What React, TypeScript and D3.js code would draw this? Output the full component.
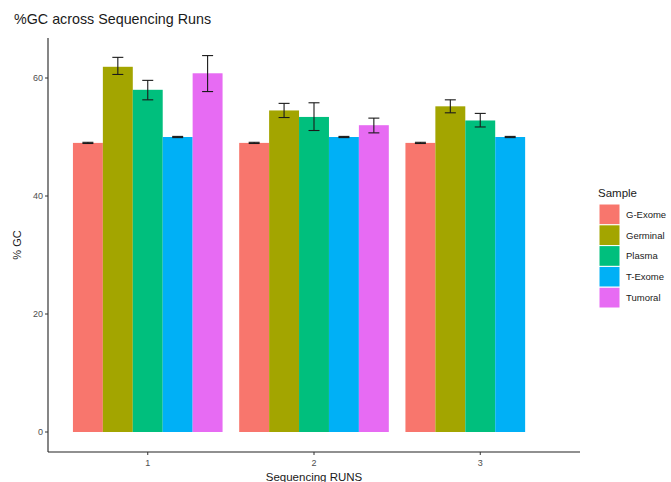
import React from "react";
import * as d3 from "d3";

const runs = [1, 2, 3];
const samples = ["G-Exome", "Germinal", "Plasma", "T-Exome", "Tumoral"];
const colors = ["#F8766D", "#A3A500", "#00BF7D", "#00B0F6", "#E76BF3"];

// mean %GC per run, per sample (null = sample not in run)
const gExome = [49.0, 49.0, 49.0];
const germinal = [61.9, 54.5, 55.2];
const plasma = [58.0, 53.4, 52.8];
const tExome = [50.0, 50.0, 50.0];
const tumoral = [60.8, 52.0, null];

// error bar lower / upper
const gExomeLo = [48.9, 48.9, 48.9];
const gExomeHi = [49.1, 49.1, 49.1];
const germinalLo = [60.6, 53.3, 54.1];
const germinalHi = [63.5, 55.7, 56.3];
const plasmaLo = [56.3, 51.1, 51.7];
const plasmaHi = [59.6, 55.8, 54.0];
const tExomeLo = [49.9, 49.9, 49.9];
const tExomeHi = [50.1, 50.1, 50.1];
const tumoralLo = [57.7, 50.7, null];
const tumoralHi = [63.8, 53.2, null];

const yTicks = [0, 20, 40, 60];

const values = [gExome, germinal, plasma, tExome, tumoral];
const lows = [gExomeLo, germinalLo, plasmaLo, tExomeLo, tumoralLo];
const highs = [gExomeHi, germinalHi, plasmaHi, tExomeHi, tumoralHi];

const font = "'Liberation Sans', Arial, sans-serif";

export default function App() {
  const width = 671;
  const height = 482;
  const left = 48;
  const right = 580;
  const top = 38;
  const bottom = 452;

  const x = d3.scaleLinear().domain([0.4, 3.6]).range([left, right]);
  const y = d3.scaleLinear().domain([0, 60]).range([432, 78]);

  const groupW = 0.9;
  const barW = groupW / samples.length;

  const rows: any[] = [];
  runs.forEach((r, ri) => {
    samples.forEach((s, si) => {
      const v = values[si][ri];
      if (v == null) return;
      const x0 = r - groupW / 2 + si * barW;
      rows.push({
        key: `${r}-${s}`,
        x0,
        x1: x0 + barW,
        xc: x0 + barW / 2,
        v,
        lo: lows[si][ri],
        hi: highs[si][ri],
        color: colors[si],
      });
    });
  });

  const capHalf = 5.5;

  return (
    <svg
      width={width}
      height={height}
      style={{ position: "fixed", left: 0, top: 0, background: "#fff" }}
      fontFamily={font}
    >
      <text x={14} y={24} fontSize={14.3} fill="#1a1a1a">
        %GC across Sequencing Runs
      </text>

      {rows.map((d) => (
        <rect
          key={d.key}
          x={x(d.x0)}
          y={y(d.v)}
          width={x(d.x1) - x(d.x0)}
          height={y(0) - y(d.v)}
          fill={d.color}
        />
      ))}

      {rows.map((d) => (
        <g key={"e" + d.key} stroke="#1a1a1a" strokeWidth={1.1}>
          <line x1={x(d.xc)} x2={x(d.xc)} y1={y(d.lo)} y2={y(d.hi)} />
          <line x1={x(d.xc) - capHalf} x2={x(d.xc) + capHalf} y1={y(d.lo)} y2={y(d.lo)} />
          <line x1={x(d.xc) - capHalf} x2={x(d.xc) + capHalf} y1={y(d.hi)} y2={y(d.hi)} />
        </g>
      ))}

      {/* axes */}
      <line x1={left} x2={left} y1={top} y2={bottom} stroke="#222" strokeWidth={1.1} />
      <line x1={left} x2={right} y1={bottom} y2={bottom} stroke="#222" strokeWidth={1.1} />

      {yTicks.map((t) => (
        <g key={"y" + t}>
          <line x1={left - 3} x2={left} y1={y(t)} y2={y(t)} stroke="#333" />
          <text
            x={left - 5}
            y={y(t)}
            dy="0.35em"
            textAnchor="end"
            fontSize={9}
            fill="#4d4d4d"
          >
            {t}
          </text>
        </g>
      ))}

      {runs.map((r) => (
        <g key={"x" + r}>
          <line x1={x(r)} x2={x(r)} y1={bottom} y2={bottom + 3} stroke="#333" />
          <text x={x(r)} y={bottom + 14} textAnchor="middle" fontSize={9} fill="#4d4d4d">
            {r}
          </text>
        </g>
      ))}

      <text x={(left + right) / 2} y={481} textAnchor="middle" fontSize={11.5} fill="#1a1a1a">
        Sequencing RUNS
      </text>
      <text
        transform={`translate(21,${(top + bottom) / 2}) rotate(-90)`}
        textAnchor="middle"
        fontSize={11}
        fill="#1a1a1a"
      >
        % GC
      </text>

      {/* legend */}
      <text x={598} y={197} fontSize={11.5} fill="#1a1a1a">
        Sample
      </text>
      {samples.map((s, i) => (
        <g key={"l" + s} transform={`translate(599,${204 + i * 20.8})`}>
          <rect width={21} height={20.8} fill={colors[i]} stroke="#fff" strokeWidth={1} />
          <text x={27} y={10.4} dy="0.35em" fontSize={9.5} fill="#1a1a1a">
            {s}
          </text>
        </g>
      ))}
    </svg>
  );
}
